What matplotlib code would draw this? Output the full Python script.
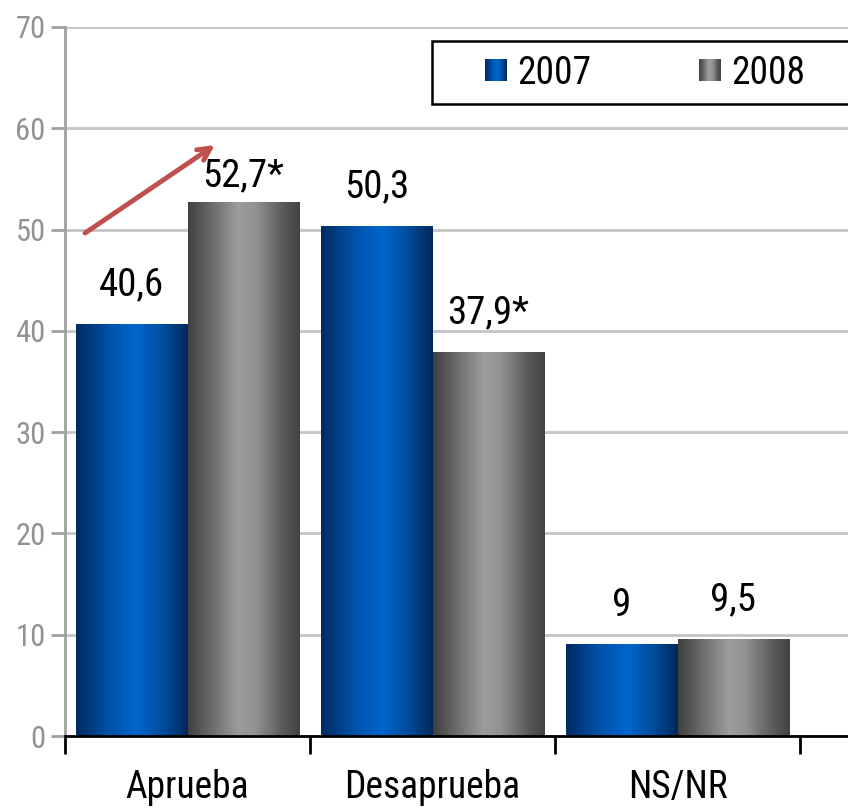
import matplotlib
matplotlib.use("Agg")
import matplotlib.pyplot as plt
import numpy as np
from matplotlib import font_manager
from matplotlib.colors import LinearSegmentedColormap
from matplotlib.patches import Rectangle
from matplotlib.legend_handler import HandlerBase

# ---- data ----
categories = ["Aprueba", "Desaprueba", "NS/NR"]
series_names = ["2007", "2008"]
values_2007 = [40.6, 50.3, 9.0]
values_2008 = [52.7, 37.9, 9.5]
labels_2007 = ["40,6", "50,3", "9"]
labels_2008 = ["52,7*", "37,9*", "9,5"]
yticks = [0, 10, 20, 30, 40, 50, 60, 70]

# ---- font ----
avail = {f.name for f in font_manager.fontManager.ttflist}
fam = None
for cand in ["Liberation Sans Narrow", "Arial Narrow", "Roboto Condensed", "Open Sans Condensed"]:
    if cand in avail:
        fam = cand
        break
if fam is None:
    fam = "Liberation Sans"
plt.rcParams['font.family'] = [fam, 'DejaVu Sans']

blue_cmap = LinearSegmentedColormap.from_list(
    "blu", [(0.0, "#002a62"), (0.3, "#0052aa"), (0.55, "#0066cc"), (0.78, "#004c9c"), (1.0, "#00285a")])
gray_cmap = LinearSegmentedColormap.from_list(
    "gry", [(0.0, "#404040"), (0.45, "#9c9c9c"), (0.6, "#939393"), (0.85, "#5a5a5a"), (1.0, "#424242")])

fig = plt.figure(figsize=(8.48, 8.10), dpi=100)
W, H = 848, 810
ax_left, ax_right, ax_bot, ax_top = 65, 848, 736, 27
ax = fig.add_axes([ax_left / W, (H - ax_bot) / H, (ax_right - ax_left) / W, (ax_bot - ax_top) / H])

x = np.arange(len(categories))
bw = 0.457
cat_px = 245.0
xmax = -0.5 + (ax_right - ax_left) / cat_px

grad = np.linspace(0, 1, 256).reshape(1, -1)
for si, (vals, labs, off, cmap) in enumerate([(values_2007, labels_2007, -bw / 2, blue_cmap),
                                              (values_2008, labels_2008, bw / 2, gray_cmap)]):
    bars = ax.bar(x + off, vals, width=bw, color="none", edgecolor="none", zorder=3)
    for ci, (b, lab) in enumerate(zip(bars, labs)):
        x0, y0 = b.get_x(), b.get_y()
        w, h = b.get_width(), b.get_height()
        ax.imshow(grad, cmap=cmap, extent=(x0, x0 + w, y0, y0 + h), aspect="auto",
                  interpolation="bilinear", zorder=3)
        # the first 2008 label sits a little lower in the original (below the arrow)
        dy = 0.8 if (si == 1 and ci == 0) else 2.1
        ax.text(x0 + w / 2, y0 + h + dy, lab, ha="center", va="bottom",
                fontsize=28, color="black", zorder=5)
ax.set_xlim(-0.5, xmax)
ax.set_ylim(0, 70)

# grid & axes styling
ax.set_yticks(yticks)
ax.yaxis.grid(True, color="#c4c4c4", linewidth=2, zorder=0)
ax.set_axisbelow(True)
for s in ["top", "right"]:
    ax.spines[s].set_visible(False)
ax.spines["left"].set_color("#a0a0a0")
ax.spines["left"].set_linewidth(2)
ax.spines["bottom"].set_color("black")
ax.spines["bottom"].set_linewidth(2)
ax.spines["bottom"].set_zorder(6)
ax.tick_params(axis="y", colors="#a0a0a0", labelcolor="#929292", length=10, width=2,
               labelsize=22, pad=4)
ax.set_xticks(x)
ax.set_xticklabels(categories)
ax.tick_params(axis="x", which="major", length=0, labelsize=27, pad=24, labelcolor="black")
ax.set_xticks(np.arange(-0.5, len(categories) + 0.5, 1.0), minor=True)
ax.tick_params(axis="x", which="minor", length=13, width=2, color="black", direction="out")

# arrow annotation
ax.annotate("", xy=(0.112, 58.35), xytext=(-0.418, 49.66),
            arrowprops=dict(arrowstyle="->,head_length=0.9,head_width=0.45",
                            color="#c0504d", lw=3.5, shrinkA=0, shrinkB=0), zorder=6)

# legend with gradient handles
class GradHandler(HandlerBase):
    def __init__(self, cmap):
        super().__init__()
        self.cmap = cmap

    def create_artists(self, legend, orig_handle, xdescent, ydescent, width, height, fontsize, trans):
        n = 24
        arts = []
        side = width
        y0 = -ydescent + (height - side) / 2
        x0 = -xdescent
        for i in range(n):
            r = Rectangle((x0 + side * i / n, y0), side / n * 1.05, side,
                          facecolor=self.cmap((i + 0.5) / n), edgecolor="none", transform=trans)
            arts.append(r)
        return arts

# legend frame (extends past the right edge like the original)
frame = Rectangle((432 / W, (H - 104) / H), (880 - 432) / W, 63 / H, transform=fig.transFigure,
                  facecolor="white", edgecolor="black", linewidth=1.8, zorder=7, clip_on=False)
fig.patches.append(frame)

h1 = Rectangle((0, 0), 1, 1)
h2 = Rectangle((0, 0), 1, 1)
fs_leg = 27
fs_px = fs_leg * 100 / 72
leg = fig.legend([h1, h2], series_names,
                 handler_map={h1: GradHandler(blue_cmap), h2: GradHandler(gray_cmap)},
                 ncol=2, loc="center left", bbox_to_anchor=(485 / W, (H - 73) / H),
                 borderaxespad=0, borderpad=0, fontsize=fs_leg, frameon=False,
                 handlelength=22 / fs_px, handleheight=0.7, handletextpad=10 / fs_px,
                 columnspacing=108 / fs_px)
leg.set_zorder(8)

fig.savefig("out.png", dpi=100)
